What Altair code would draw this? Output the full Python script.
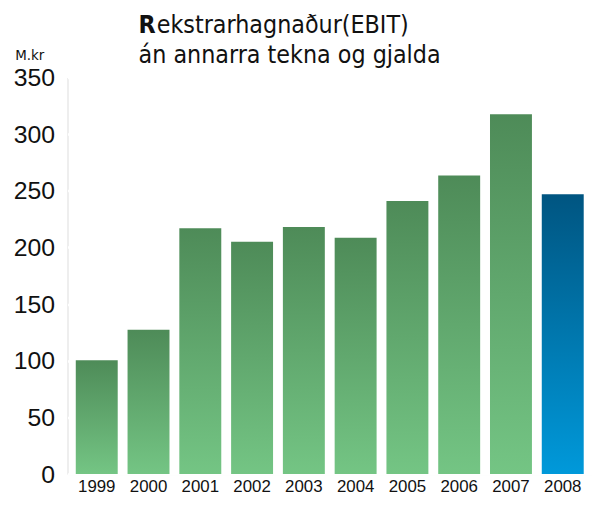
import altair as alt
import pandas as pd

years = ["1999", "2000", "2001", "2002", "2003", "2004", "2005", "2006", "2007", "2008"]
values = [100.5, 127.5, 217, 205, 218, 208.5, 241, 263.5, 317.5, 247]
y_ticks = [0, 50, 100, 150, 200, 250, 300, 350]

df = pd.DataFrame({"year": years, "value": values})
df["latest"] = df["year"] == years[-1]

W, H = 529, 400
cond_font = "DejaVu Sans Condensed, Liberation Sans Narrow, Roboto"

green = alt.Gradient(gradient="linear", x1=0, x2=0, y1=0, y2=1,
                     stops=[alt.GradientStop(color="#4e8b58", offset=0),
                            alt.GradientStop(color="#74c584", offset=1)])
blue = alt.Gradient(gradient="linear", x1=0, x2=0, y1=0, y2=1,
                    stops=[alt.GradientStop(color="#005581", offset=0),
                           alt.GradientStop(color="#0099da", offset=1)])

xenc = alt.X("year:N", sort=years, title=None,
             scale=alt.Scale(paddingInner=0.19, paddingOuter=0.16),
             axis=alt.Axis(labelAngle=0, labelFontSize=17, labelFont="Liberation Sans",
                           labelColor="#111", labelPadding=5, ticks=False, domain=False,
                           grid=False))
yenc = alt.Y("value:Q", title=None,
             scale=alt.Scale(domain=[0, 350], nice=False),
             axis=alt.Axis(values=y_ticks, labelFontSize=25, labelFont="Liberation Sans",
                           labelColor="#111", labelPadding=13, ticks=False, domain=False,
                           grid=True, gridColor="white", gridWidth=2.5))

base = alt.Chart(df)
bars_green = base.transform_filter("!datum.latest").mark_bar(color=green).encode(x=xenc, y=yenc)
bars_blue = base.transform_filter("datum.latest").mark_bar(color=blue).encode(x=xenc, y=yenc)

txt = pd.DataFrame({"t": [0]})
r_bold = alt.Chart(txt).mark_text(text="R", fontSize=25, fontWeight="bold", font=cond_font,
                                  align="right", baseline="alphabetic", color="#111").encode(
    x=alt.value(89), y=alt.value(-45))
line1 = alt.Chart(txt).mark_text(text="ekstrarhagnaður(EBIT)", fontSize=25, font=cond_font,
                                 align="left", baseline="alphabetic", color="#111").encode(
    x=alt.value(90), y=alt.value(-45))
line2 = alt.Chart(txt).mark_text(text="án annarra tekna og gjalda", fontSize=25, font=cond_font,
                                 align="center", baseline="alphabetic", color="#111").encode(
    x=alt.value(224), y=alt.value(-15))
unit = alt.Chart(txt).mark_text(text="M.kr", fontSize=15, font=cond_font,
                                align="center", baseline="alphabetic", color="#111").encode(
    x=alt.value(-38), y=alt.value(-18))

chart = alt.layer(bars_green, bars_blue, r_bold, line1, line2, unit).properties(
    width=W, height=H,
    autosize=alt.AutoSizeParams(type="none"),
    padding={"left": 60, "top": 68, "right": 0, "bottom": 22},
).configure_view(fill="#e2f0ef", stroke=None).configure(background="white")

chart.save("out.html", embed_options={"renderer": "svg", "actions": False})
